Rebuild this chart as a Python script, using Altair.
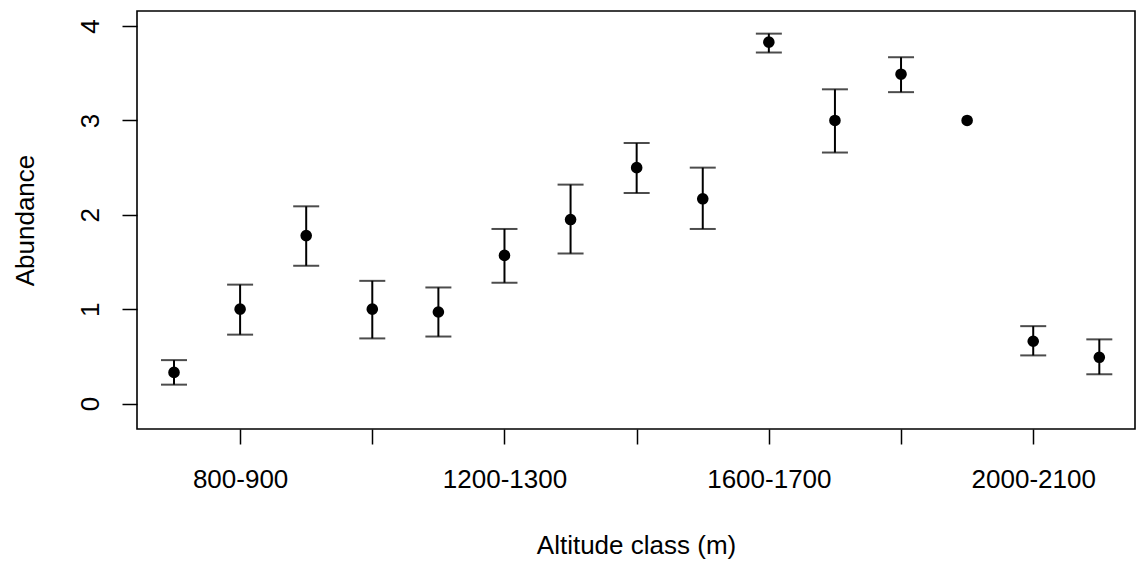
import altair as alt
import pandas as pd

categories = ["700-800", "800-900", "900-1000", "1000-1100", "1100-1200",
              "1200-1300", "1300-1400", "1400-1500", "1500-1600", "1600-1700",
              "1700-1800", "1800-1900", "1900-2000", "2000-2100", "2100-2200"]
mean = [0.33, 1.00, 1.78, 1.00, 0.97, 1.57, 1.95, 2.50, 2.17, 3.83, 3.00, 3.49, 3.00, 0.66, 0.49]
lower = [0.20, 0.73, 1.46, 0.69, 0.71, 1.28, 1.59, 2.23, 1.85, 3.72, 2.66, 3.30, None, 0.51, 0.31]
upper = [0.46, 1.26, 2.09, 1.30, 1.23, 1.85, 2.32, 2.76, 2.50, 3.92, 3.33, 3.67, None, 0.82, 0.68]

x_tick_values = [2, 4, 6, 8, 10, 12, 14]
x_labelled = [2, 6, 10, 14]
y_tick_values = [0, 1, 2, 3, 4]

df = pd.DataFrame({
    "idx": list(range(1, len(categories) + 1)),
    "cat": categories,
    "mean": mean,
    "lo": lower,
    "hi": upper,
})

FONT = "Liberation Sans"
FS = 26

cat_js = "[" + ",".join("'" + c + "'" for c in categories) + "]"
lab_js = "[" + ",".join(str(v) for v in x_labelled) + "]"
label_expr = f"indexof({lab_js}, datum.value) >= 0 ? {cat_js}[datum.value - 1] : ''"

x_scale = alt.Scale(domain=[0.44, 15.54], nice=False, zero=False)
y_scale = alt.Scale(domain=[-0.27, 4.16], nice=False, zero=False)

x_axis = alt.Axis(
    title="Altitude class (m)", values=x_tick_values, labelExpr=label_expr,
    grid=False, domain=False, tickSize=15, tickColor="black", tickWidth=1.5,
    labelFont=FONT, labelFontSize=FS, labelColor="black", labelBaseline="alphabetic",
    labelPadding=43, labelFlush=False, labelOverlap=False,
    titleFont=FONT, titleFontSize=FS, titleFontWeight="normal", titleColor="black",
    titleBaseline="alphabetic", titleY=124,
)
y_axis = alt.Axis(
    title="Abundance", values=y_tick_values, format="d", grid=False, domain=False,
    tickSize=15, tickColor="black", tickWidth=1.5,
    labelFont=FONT, labelFontSize=FS, labelColor="black", labelAngle=-90,
    labelAlign="center", labelBaseline="alphabetic", labelPadding=24, labelFlush=False,
    titleFont=FONT, titleFontSize=FS, titleFontWeight="normal", titleColor="black",
    titleAngle=-90, titleBaseline="alphabetic", titleX=-104, titleAlign="center",
)

base = alt.Chart(df)

bars = base.transform_filter("isValid(datum.lo)").mark_rule(
    color="black", strokeWidth=2
).encode(
    x=alt.X("idx:Q", scale=x_scale, axis=x_axis),
    y=alt.Y("lo:Q", scale=y_scale, axis=y_axis),
    y2="hi:Q",
)

cap_lo = base.transform_filter("isValid(datum.lo)").mark_tick(
    color="black", orient="horizontal", size=26, thickness=2
).encode(x=alt.X("idx:Q", scale=x_scale), y=alt.Y("lo:Q", scale=y_scale))

cap_hi = base.transform_filter("isValid(datum.hi)").mark_tick(
    color="black", orient="horizontal", size=26, thickness=2
).encode(x=alt.X("idx:Q", scale=x_scale), y=alt.Y("hi:Q", scale=y_scale))

points = base.mark_point(
    filled=True, shape="circle", size=135, color="black", opacity=1
).encode(x=alt.X("idx:Q", scale=x_scale), y=alt.Y("mean:Q", scale=y_scale))

chart = alt.layer(bars, cap_lo, cap_hi, points).properties(
    width=998, height=418,
    autosize=alt.AutoSizeParams(type="none"),
    padding={"left": 137, "top": 11, "right": 6, "bottom": 135},
    background="white",
).configure_view(stroke="black", strokeWidth=1.6)

chart.save("out.html", embed_options={"renderer": "svg", "actions": False})
